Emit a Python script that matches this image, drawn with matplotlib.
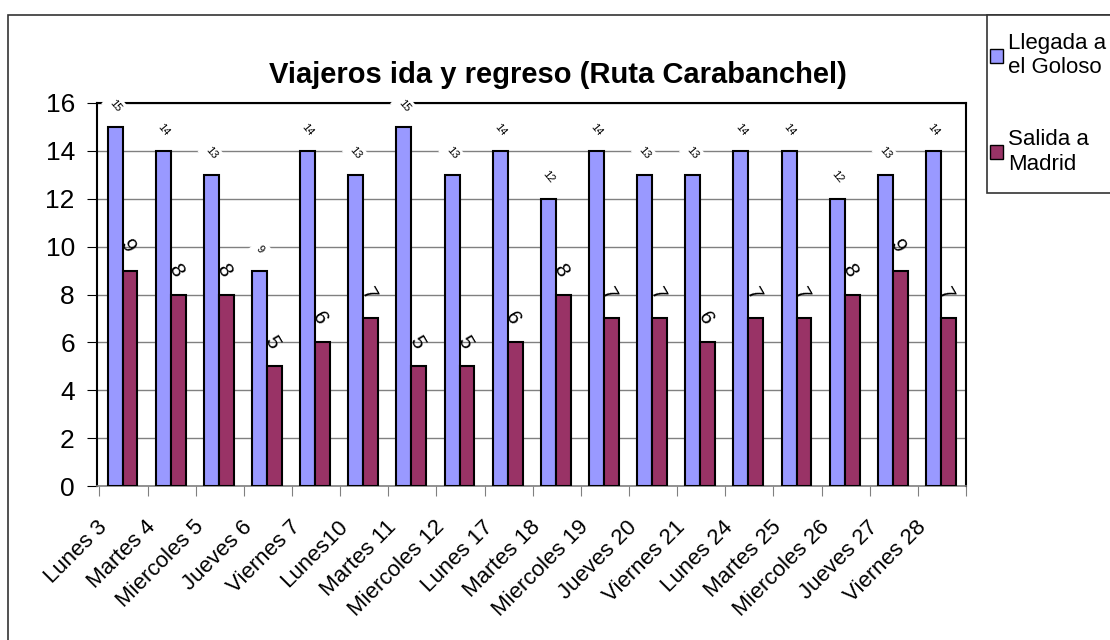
import numpy as np
import matplotlib
matplotlib.use('Agg')
import matplotlib.pyplot as plt
from matplotlib.patches import Rectangle, Patch

plt.rcParams['font.family'] = ['Liberation Sans', 'DejaVu Sans']

dias = ['Lunes 3', 'Martes 4', 'Miercoles 5', 'Jueves 6', 'Viernes 7', 'Lunes10',
        'Martes 11', 'Miercoles 12', 'Lunes 17', 'Martes 18', 'Miercoles 19',
        'Jueves 20', 'Viernes 21', 'Lunes 24', 'Martes 25', 'Miercoles 26',
        'Jueves 27', 'Viernes 28']
llegada = [15, 14, 13, 9, 14, 13, 15, 13, 14, 12, 14, 13, 13, 14, 14, 12, 13, 14]
salida = [9, 8, 8, 5, 6, 7, 5, 5, 6, 8, 7, 7, 6, 7, 7, 8, 9, 7]

azul = '#9999FF'
granate = '#993366'

fig = plt.figure(figsize=(11.1, 6.4), dpi=100)

# chart border (extends past the image on right/bottom)
fig.add_artist(Rectangle((8 / 1110, -0.1), 1.2, 1 - 15 / 640 + 0.1,
                         transform=fig.transFigure, fill=False,
                         edgecolor='#333333', linewidth=1.2))

ax = fig.add_axes([97 / 1110, 1 - 486 / 640, (966 - 97) / 1110, (486 - 103) / 640])

x = np.arange(len(dias))
w = 0.31
ax.bar(x + 0.48 - w / 2, llegada, w, color=azul, edgecolor='black', linewidth=1.5, zorder=3)
ax.bar(x + 0.48 + w / 2, salida, w, color=granate, edgecolor='black', linewidth=1.5, zorder=3)

for xi, v in zip(x, llegada):
    ax.text(xi + 0.48 - w / 2, v + 0.9, str(v), fontsize=8, rotation=-50,
            ha='center', va='center', zorder=5, clip_on=False,
            bbox=dict(facecolor='white', edgecolor='none', pad=3))
for xi, v in zip(x, salida):
    ax.text(xi + 0.48 + w / 2 - 0.05, v + 1.0, str(v), fontsize=15, rotation=-60,
            ha='center', va='center', zorder=5)

ax.set_xlim(0, len(dias))
ax.set_ylim(0, 16)
ax.set_yticks(range(0, 17, 2))
ax.tick_params(axis='y', labelsize=19, length=7, color='black', pad=9)
ax.set_xticks(np.arange(len(dias) + 1))
ax.set_xticklabels([])
ax.set_xticks(x - 0.05, minor=True)
ax.set_xticklabels(dias, minor=True, rotation=45, ha='right', rotation_mode='anchor',
                   fontsize=16)
ax.tick_params(axis='x', which='major', length=7, color='#808080')
ax.tick_params(axis='x', which='minor', length=0, pad=22)

ax.grid(axis='y', color='#808080', linewidth=1, zorder=0)
ax.set_axisbelow(True)
for s in ['top', 'right', 'left']:
    ax.spines[s].set_color('black')
    ax.spines[s].set_linewidth(1.5)
ax.spines['bottom'].set_color('#808080')
ax.spines['bottom'].set_linewidth(1.2)

fig.text(558 / 1110, 1 - 75 / 640, 'Viajeros ida y regreso (Ruta Carabanchel)',
         fontsize=21, fontweight='bold', ha='center', va='center')

# legend box
fig.add_artist(Rectangle((987 / 1110, 1 - 193 / 640), 0.2, (193 - 15) / 640,
                         transform=fig.transFigure, facecolor='white',
                         edgecolor='#333333', linewidth=1.2, zorder=4))
handles = [Patch(facecolor=azul, edgecolor='black'), Patch(facecolor=granate, edgecolor='black')]
leg = fig.legend(handles, ['Llegada a\nel Goloso', 'Salida a\nMadrid'],
                 loc='upper left', bbox_to_anchor=(990 / 1110, 1 - 33 / 640),
                 frameon=False, fontsize=16, handlelength=0.6, handleheight=0.6,
                 handletextpad=0.2, labelspacing=2.3, borderpad=0, borderaxespad=0)
leg.set_zorder(5)

fig.savefig('out.png', dpi=100)
